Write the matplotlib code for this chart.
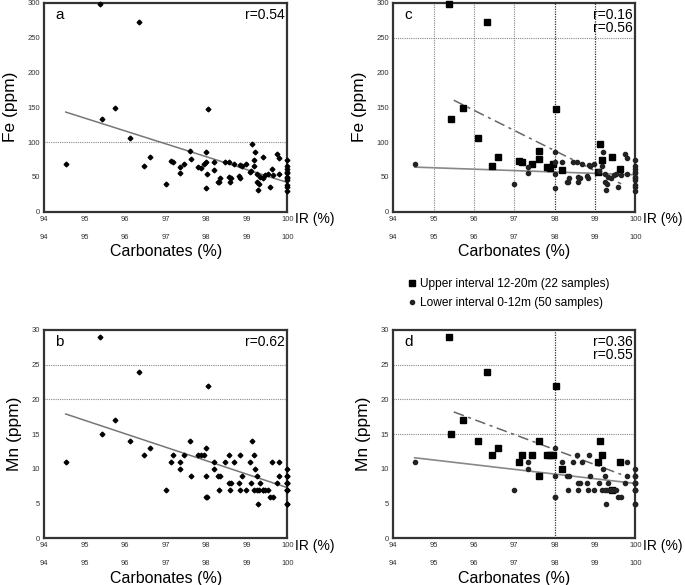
import matplotlib
matplotlib.use("Agg")
import matplotlib.pyplot as plt
from matplotlib.lines import Line2D
import numpy as np

plt.rcParams['font.family'] = ['Liberation Sans', 'DejaVu Sans']

# upper interval 12-20m (22 samples)
up_ir = [95.37, 95.42, 95.74, 96.11, 96.33, 96.45, 96.60, 97.12, 97.18, 97.45, 97.60,
         97.61, 97.80, 97.88, 97.95, 98.03, 98.19, 99.08, 99.12, 99.17, 99.41, 99.62]
up_fe = [298, 133, 149, 106, 273, 66, 78, 73, 71, 68, 87, 76, 64, 63, 68, 148, 60, 57, 97, 74, 78, 61]
up_mn = [29, 15, 17, 14, 24, 12, 13, 11, 12, 12, 14, 9, 12, 12, 12, 22, 10, 11, 14, 12, 7, 11]

# lower interval 0-12m (50 samples)
lo_ir = [94.53, 97.00, 97.35, 97.35, 98.00, 98.00, 98.01, 98.00, 98.19, 98.30,
         98.35, 98.32, 98.45, 98.56, 98.57, 98.59, 98.68, 98.80, 98.84, 98.83,
         98.88, 98.97, 99.20, 99.17, 99.25, 99.32, 99.24, 99.30, 99.28, 99.46,
         99.52, 99.58, 99.64, 99.75, 99.80, 99.80, 100, 100, 100, 100,
         100, 100, 100, 100, 100, 99.10, 99.40, 98.62, 100, 100]
lo_fe = [69, 40, 64, 55, 86, 72, 54, 34, 72, 42, 48, 43, 72, 72, 50, 42, 69, 51, 67, 49,
         65, 69, 86, 66, 54, 50, 43, 40, 31, 52, 54, 35, 53, 83, 77, 54, 74, 66, 61, 55,
         50, 46, 39, 36, 29, 58, 48, 48, 48, 57]
lo_mn = [11, 7, 11, 10, 13, 9, 6, 6, 11, 9, 9, 7, 11, 12, 8, 7, 11, 8, 12, 7,
         9, 7, 10, 7, 9, 8, 7, 7, 5, 7, 7, 6, 6, 8, 9, 11, 10, 9, 9, 8,
         8, 7, 7, 5, 5, 8, 7, 8, 7, 8]

# regression lines (x ends, y ends)
fit_all_fe = ([94.53, 100], [143, 42])
fit_all_mn = ([94.53, 100], [17.9, 7.3])
fit_lo_fe = ([94.53, 100], [64, 53])
fit_up_fe = ([95.5, 99.65], [160, 40])
fit_lo_mn = ([94.53, 100], [11.6, 7.9])
fit_up_mn = ([95.5, 99.65], [18.2, 9.2])

x_ticks = [94, 95, 96, 97, 98, 99, 100]

fig = plt.figure(figsize=(6.85, 5.85), dpi=100)
W, H = 685, 585


def make_ax(left, top, right, bottom):
    return fig.add_axes([left / W, 1 - bottom / H, (right - left) / W, (bottom - top) / H])


def style(ax, ymax, ystep, ylabel, letter, rtexts):
    ax.set_xlim(94, 100)
    ax.set_ylim(0, ymax)
    ax.set_xticks(x_ticks)
    ax.set_yticks(np.arange(0, ymax + 1, ystep))
    ax.tick_params(length=0, labelsize=5.5, colors='#333', pad=3)
    for s in ax.spines.values():
        s.set_linewidth(1.6)
        s.set_color('#333')
    ax.set_ylabel(ylabel, fontsize=12.5, labelpad=7)
    sec = ax.secondary_xaxis(-0.105)
    sec.set_xticks(x_ticks)
    sec.tick_params(length=0, labelsize=5.5, colors='#333', pad=0)
    sec.spines['bottom'].set_visible(False)
    sec.set_xlabel('Carbonates (%)', fontsize=11.5, labelpad=2.5)
    ax.text(1.033, -0.035, 'IR (%)', transform=ax.transAxes, fontsize=10,
            ha='left', va='center')
    ax.text(0.045, 0.94, letter, transform=ax.transAxes, fontsize=11,
            ha='left', va='center')
    for i, t in enumerate(rtexts):
        ax.text(0.988, 0.943 - i * 0.064, t, transform=ax.transAxes, fontsize=10,
                ha='right', va='center')


grid_kw = dict(color='#888', linestyle=(0, (1, 1)), linewidth=0.8, zorder=0)
grid_dark = dict(color='#333', linestyle=(0, (1, 1)), linewidth=0.9, zorder=0)

all_ir = up_ir + lo_ir
all_fe = up_fe + lo_fe
all_mn = up_mn + lo_mn

# a
ax = make_ax(44.3, 2.7, 287.3, 211.7)
ax.axhline(100, **grid_kw)
ax.plot(all_ir, all_fe, 'D', color='black', ms=2.4, clip_on=False, zorder=3)
ax.plot(*fit_all_fe, color='#777', lw=1.1)
style(ax, 300, 50, 'Fe (ppm)', 'a', ['r=0.54'])

# c
ax = make_ax(393.3, 2.7, 635.3, 211.7)
ax.axhline(250, **grid_kw)
for xv in [95, 96, 97]:
    ax.axvline(xv, **grid_kw)
for xv in [98, 99]:
    ax.axvline(xv, **grid_dark)
ax.plot(up_ir, up_fe, 's', color='black', ms=4.2, clip_on=False, zorder=3)
ax.plot(lo_ir, lo_fe, 'o', color='#222', ms=3.0, clip_on=False, zorder=3)
ax.plot(*fit_lo_fe, color='#888', lw=1.2)
ax.plot(*fit_up_fe, color='#666', lw=1.1, dashes=(7, 3, 2, 3))
style(ax, 300, 50, 'Fe (ppm)', 'c', ['r=0.16', 'r=0.56'])

# b
ax = make_ax(44.3, 330, 287.3, 538.3)
for yv in [20, 25]:
    ax.axhline(yv, **grid_kw)
ax.plot(all_ir, all_mn, 'D', color='black', ms=2.4, clip_on=False, zorder=3)
ax.plot(*fit_all_mn, color='#777', lw=1.1)
style(ax, 30, 5, 'Mn (ppm)', 'b', ['r=0.62'])

# d
ax = make_ax(393.3, 330, 635.3, 538.3)
for yv in [15, 20, 25]:
    ax.axhline(yv, **grid_kw)
ax.axvline(98, **grid_dark)
ax.plot(up_ir, up_mn, 's', color='black', ms=4.2, clip_on=False, zorder=3)
ax.plot(lo_ir, lo_mn, 'o', color='#222', ms=3.0, clip_on=False, zorder=3)
ax.plot(*fit_lo_mn, color='#888', lw=1.2)
ax.plot(*fit_up_mn, color='#666', lw=1.1, dashes=(7, 3, 2, 3))
style(ax, 30, 5, 'Mn (ppm)', 'd', ['r=0.36', 'r=0.55'])

handles = [Line2D([], [], marker='s', ls='none', color='black', ms=4),
           Line2D([], [], marker='o', ls='none', color='#222', ms=3.0)]
fig.legend(handles, ['Upper interval 12-20m (22 samples)', 'Lower interval 0-12m (50 samples)'],
           loc='upper left', bbox_to_anchor=(408 / W, 1 - 278 / H), frameon=False,
           fontsize=8.6, handlelength=0.6, handletextpad=0.4, labelspacing=0.6,
           borderpad=0, borderaxespad=0)

fig.savefig('out.png', dpi=100)
